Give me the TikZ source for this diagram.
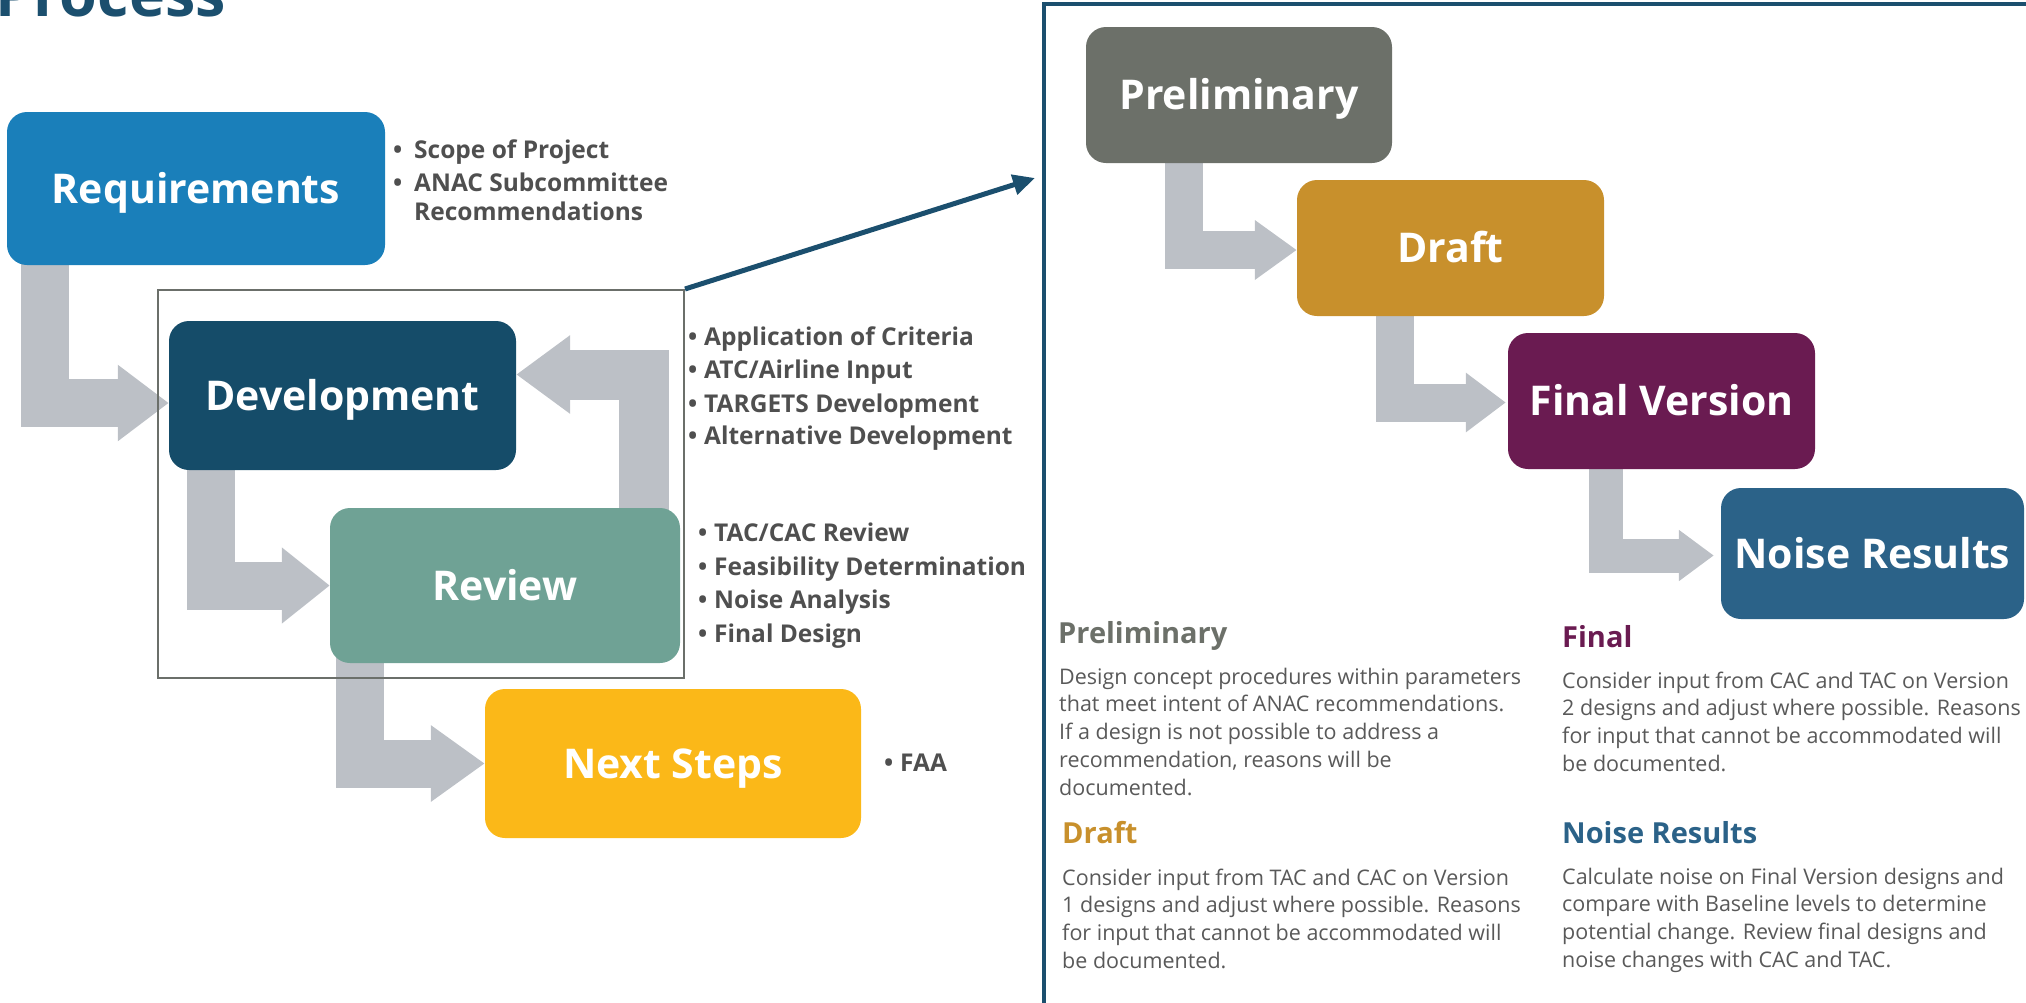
\documentclass[tikz,border=0pt]{standalone}
\usepackage{fontspec}
\setmainfont{Open Sans}
\usetikzlibrary{arrows.meta,calc}
\definecolor{reqblue}{HTML}{1A7FBA}
\definecolor{devblue}{HTML}{154C69}
\definecolor{revgreen}{HTML}{6FA295}
\definecolor{nextyellow}{HTML}{FBB818}
\definecolor{prelgray}{HTML}{6C7069}
\definecolor{draftgold}{HTML}{C8902C}
\definecolor{finalpurple}{HTML}{6A1B51}
\definecolor{noiseblue}{HTML}{2B6288}
\definecolor{arrowgray}{HTML}{BCC0C6}
\definecolor{navy}{HTML}{1B4F6E}
\definecolor{bullettext}{HTML}{4F4F4F}
\definecolor{bodytext}{HTML}{595959}
\definecolor{outlinegray}{HTML}{6B6F6A}
\newcommand{\bulitem}[2]{\makebox[#1][l]{\textbullet}#2}
\begin{document}
\begin{tikzpicture}[x=1pt,y=-1pt,
  stage/.style={rounded corners=20pt, inner sep=0pt, text=white,
    font=\fontsize{41}{48}\selectfont\bfseries, text height=29.5pt, text depth=0pt},
  garrow/.style={draw=arrowgray, line width=48pt, line join=miter,
    -{Triangle[length=51pt,width=73pt]}},
  rarrow/.style={draw=arrowgray, line width=38pt, line join=miter,
    -{Triangle[length=42pt,width=57pt]}},
  bul/.style={anchor=base west, inner sep=0pt, text=bullettext,
    font=\fontsize{24.5}{30}\selectfont\bfseries},
  body/.style={anchor=base west, inner sep=0pt, text=bodytext,
    font=\fontsize{21.5}{28}\selectfont},
  heads/.style={anchor=base west, inner sep=0pt,
    font=\fontsize{29}{34}\selectfont\bfseries}]
\useasboundingbox (0,0) rectangle (2026,1002);
\clip (0,0) rectangle (2026,1002);

% title
\node[anchor=base west, inner sep=0pt, text=navy,
  font=\fontsize{61}{70}\selectfont\bfseries] (title) at (-5,16) {Process};

% box positions (placeholders for the arrows)
\path
  (196,188.5) node[stage, minimum width=378pt, minimum height=153pt] (req) {}
  (342.5,395.5) node[stage, minimum width=347pt, minimum height=149pt] (dev) {}
  (505,585.5) node[stage, minimum width=350pt, minimum height=155pt] (rev) {}
  (673,763.5) node[stage, minimum width=376pt, minimum height=149pt] (next) {}
  (1239,95) node[stage, minimum width=306pt, minimum height=136pt] (prel) {}
  (1450.5,248) node[stage, minimum width=307pt, minimum height=136pt] (draft) {}
  (1661.5,401) node[stage, minimum width=307pt, minimum height=136pt] (final) {}
  (1872.5,553.5) node[stage, minimum width=303pt, minimum height=131pt] (noise) {};

% gray bent arrows
\draw[garrow] ($(req.south west)+(38,-10)$) |- ($(dev.west)+(0,7.5)$);
\draw[garrow, -{Triangle[length=48pt,width=73pt]}]
  ($(dev.south west)+(42.5,-10)$) |- (rev.west);
\draw[garrow, -{Triangle[length=54pt,width=73pt]}]
  ($(rev.south west)+(30,-10)$) |- (next.west);
\draw[garrow, line width=50pt, -{Triangle[length=54pt,width=75pt]}]
  ($(rev.north east)+(-36,10)$) |- ($(dev.east)+(0,-21)$);

\draw[rarrow] ($(prel.south west)+(98,-10)$) |- ($(draft.west)+(0,2)$);
\draw[rarrow, -{Triangle[length=40pt,width=57pt]}]
  ($(draft.south west)+(98,-10)$) |- ($(final.west)+(-2,1.5)$);
\draw[rarrow, line width=34pt, -{Triangle[length=35pt,width=49pt]}]
  ($(final.south west)+(98,-10)$) |- ($(noise.west)+(-7,2)$);

% boxes
\node[stage, fill=reqblue, minimum width=378pt, minimum height=153pt] at (req) {Requirements};
\node[stage, fill=devblue, minimum width=347pt, minimum height=149pt] at (dev) {Development};
\node[stage, fill=revgreen, minimum width=350pt, minimum height=155pt] at (rev) {Review};
\node[stage, fill=nextyellow, minimum width=376pt, minimum height=149pt] at (next) {Next Steps};
\node[stage, fill=prelgray, minimum width=306pt, minimum height=136pt] at (prel) {Preliminary};
\node[stage, fill=draftgold, minimum width=307pt, minimum height=136pt] at (draft) {Draft};
\node[stage, fill=finalpurple, minimum width=307pt, minimum height=136pt] at (final) {Final Version};
\node[stage, fill=noiseblue, minimum width=303pt, minimum height=131pt] at (noise) {Noise Results};

% group outline and link arrow
\node[draw=outlinegray, line width=2pt, minimum width=526pt, minimum height=388pt,
  inner sep=0pt] (grp) at (421,484) {};
\coordinate (tip) at (1035,178);
\draw[navy, line width=5pt, -{Triangle[length=22pt,width=20pt]}] (grp.north east) -- (tip);

% right panel frame
\draw[navy, line width=4pt] (1044,1030) -- (1044,4) -- (2040,4);

% bullets
\node[bul] (r1) at (393,158) {\bulitem{21pt}{Scope of Project}};
\node[bul] (r2) at (393,191) {\bulitem{21pt}{ANAC Subcommittee}};
\node[bul] (r3) at (414,220) {Recommendations};

\node[bul] (d1) at (688,345) {\bulitem{16pt}{Application of Criteria}};
\node[bul] (d2) at (688,378) {\bulitem{16pt}{ATC/Airline Input}};
\node[bul] (d3) at (688,412) {\bulitem{16pt}{TARGETS Development}};
\node[bul] (d4) at (688,444) {\bulitem{16pt}{Alternative Development}};

\node[bul] (v1) at (698,541) {\bulitem{16pt}{TAC/CAC Review}};
\node[bul] (v2) at (698,575) {\bulitem{16pt}{Feasibility Determination}};
\node[bul] (v3) at (698,608) {\bulitem{16pt}{Noise Analysis}};
\node[bul] (v4) at (698,642) {\bulitem{16pt}{Final Design}};

\node[bul] (f1) at (884,771) {\bulitem{16pt}{FAA}};

% descriptions
\node[heads, text=prelgray] (hp) at (1058,643) {Preliminary};
\node[body] (p1) at (1059,684) {Design concept procedures within parameters};
\node[body] (p2) at (1059,711.8) {that meet intent of ANAC recommendations.};
\node[body] (p3) at (1059,739.6) {If a design is not possible to address a};
\node[body] (p4) at (1059,767.4) {recommendation, reasons will be};
\node[body] (p5) at (1059,795.2) {documented.};

\node[heads, text=draftgold] (hd) at (1062,843) {Draft};
\node[body] (q1) at (1062,885) {Consider input from TAC and CAC on Version};
\node[body] (q2) at (1062,912.7) {1 designs and adjust where possible. Reasons};
\node[body] (q3) at (1062,940.4) {for input that cannot be accommodated will};
\node[body] (q4) at (1062,968.1) {be documented.};

\node[heads, text=finalpurple] (hf) at (1562,647) {Final};
\node[body] (s1) at (1562,688) {Consider input from CAC and TAC on Version};
\node[body] (s2) at (1562,715.7) {2 designs and adjust where possible. Reasons};
\node[body] (s3) at (1562,743.4) {for input that cannot be accommodated will};
\node[body] (s4) at (1562,771.1) {be documented.};

\node[heads, text=noiseblue] (hn) at (1562,843) {Noise Results};
\node[body] (n1) at (1562,884) {Calculate noise on Final Version designs and};
\node[body] (n2) at (1562,911.7) {compare with Baseline levels to determine};
\node[body] (n3) at (1562,939.4) {potential change. Review final designs and};
\node[body] (n4) at (1562,967.1) {noise changes with CAC and TAC.};
\end{tikzpicture}
\end{document}
